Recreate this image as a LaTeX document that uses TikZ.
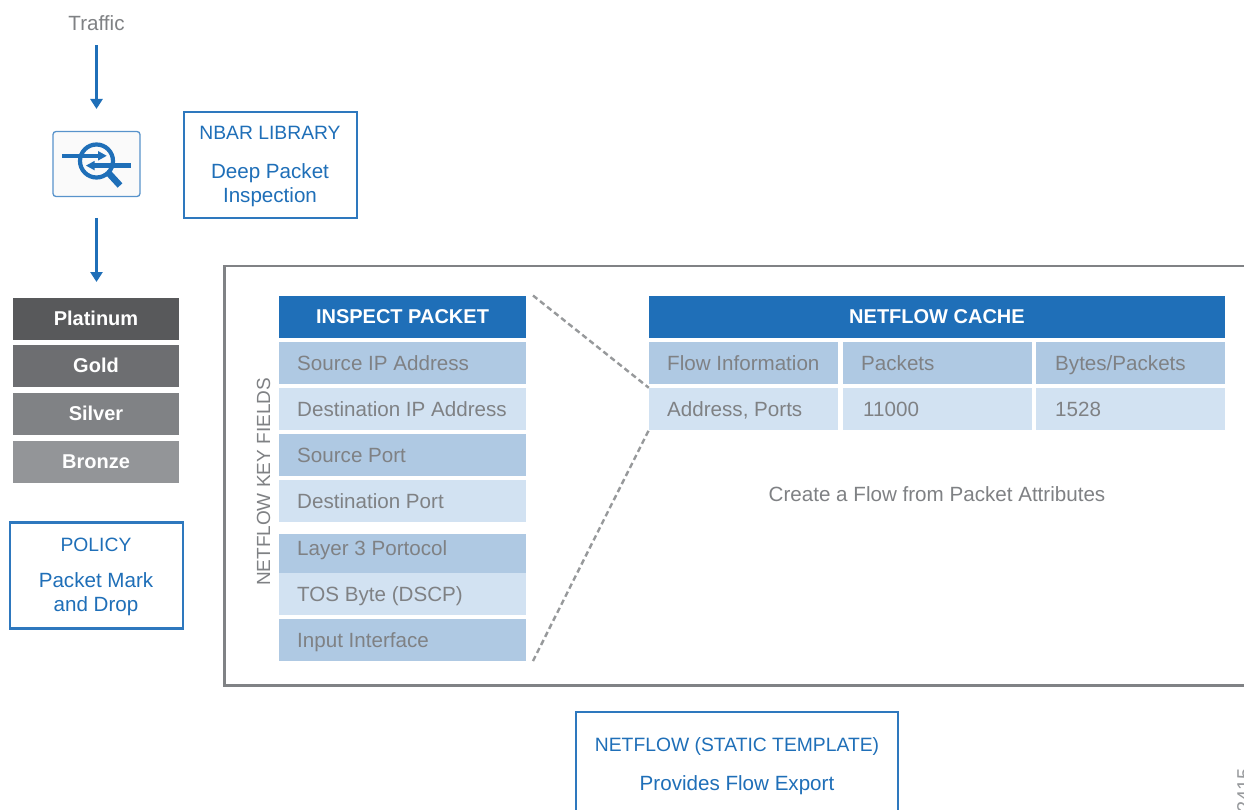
\documentclass[tikz,border=0pt]{standalone}
\usepackage{fontspec}
\setmainfont{Liberation Sans}
\usetikzlibrary{arrows.meta,calc}
\definecolor{cblue}{HTML}{1F6FB8}
\definecolor{cline}{HTML}{2E78BE}
\definecolor{tgray}{HTML}{7F8184}
\definecolor{framegray}{HTML}{808285}
\definecolor{dashgray}{HTML}{97999B}
\definecolor{rowdark}{HTML}{AFC9E3}
\definecolor{rowlight}{HTML}{D2E2F2}
\tikzset{
  rowd/.style={fill=rowdark},
  rowl/.style={fill=rowlight},
  tier/.style={minimum width=166,minimum height=42,inner sep=0pt,text=white,font=\fontsize{20}{23}\selectfont\bfseries,text height=13,text depth=0},
  head/.style={fill=cblue,text=white,minimum height=42,inner sep=0pt,font=\fontsize{20}{23}\selectfont\bfseries,text height=13,text depth=0},
  bluebox/.style={draw=cline,line width=2.4,fill=white,inner sep=0pt},
  bluecaps/.style={text=cblue,font=\fontsize{19.3}{24}\selectfont,inner sep=0pt,text height=14,text depth=0},
  bluetext/.style={text=cblue,font=\fontsize{20.6}{24}\selectfont,inner sep=0pt,align=center},
  flow/.style={draw=cblue,line width=3.8,-{Triangle[width=12,length=10]}},
  zoomline/.style={draw=dashgray,line width=2.4,dash pattern=on 5.5 off 3.5},
  graytext/.style={text=tgray,font=\fontsize{20.6}{23}\selectfont,inner sep=0pt,text height=14,text depth=0}
}
\begin{document}
\begin{tikzpicture}[x=1pt,y=-1pt]
\useasboundingbox (0,0) rectangle (1244,810);
\clip (0,0) rectangle (1244,810);
\fill[white] (0,0) rectangle (1244,810);

% left column
\node[graytext] (traffic) at (96.5,23.5) {Traffic};
\node[draw=cline!80,line width=1.3,rounded corners=3,fill=black!2,minimum width=87,minimum height=65,inner sep=0pt] (nbar) at (96.5,164) {};
\coordinate (arrin) at (96.5,45.5);
\coordinate (arrout) at (96.5,109);
\coordinate (arrin2) at (96.5,218);
\coordinate (arrout2) at (96.5,282);
\draw[flow] (arrin) -- (arrout);
\draw[flow] (arrin2) -- (arrout2);

% magnifier icon
\begin{scope}[cblue]
\draw[line width=4.2] (96.5,161) circle (16.5);
\draw[line width=6.5] (109,173.5) -- (120,185.5);
\draw[line width=4.2] (62,155.8) -- (100,155.8);
\fill (106.7,155.8) -- (98,151) -- (98,160.6) -- cycle;
\draw[line width=4.2] (130.7,165.6) -- (92,165.6);
\fill (86,165.6) -- (94.7,160.8) -- (94.7,170.4) -- cycle;
\end{scope}

\node[bluebox,minimum width=173,minimum height=106] (lib) at (270.5,165) {};
\node[bluecaps] (libt) at (270,133) {NBAR LIBRARY};
\node[bluetext] (libs) at (270,185) {Deep Packet\\Inspection};

\node[tier,fill={rgb,255:red,88;green,89;blue,91}] (plat) at (96,319) {Platinum};
\node[tier,fill={rgb,255:red,109;green,110;blue,113}] (gold) at (96,366) {Gold};
\node[tier,fill={rgb,255:red,128;green,130;blue,133}] (silver) at (96,414) {Silver};
\node[tier,fill={rgb,255:red,147;green,149;blue,152}] (bronze) at (96,462) {Bronze};

\node[bluebox,minimum width=173,minimum height=106] (policy) at (96.5,575.5) {};
\node[bluecaps] (polt) at (96,544) {POLICY};
\node[bluetext] (pols) at (96,594.5) {Packet Mark\\and Drop};

% frame
\draw[framegray,line width=2.2] (1250,266) -- (224.5,266) -- (224.5,685.5) -- (1250,685.5);

% inspect packet column
\node[head,minimum width=247] (insp) at (402.5,317) {INSPECT PACKET};
\foreach \n/\y/\h/\st/\t in {
  a/363/42/rowd/Source IP Address,
  b/409/42/rowl/Destination IP Address,
  c/455/42/rowd/Source Port,
  d/501/42/rowl/Destination Port,
  e/553.5/39/rowd/{},
  f/594/42/rowl/TOS Byte (DSCP),
  g/640/42/rowd/Input Interface}{
  \node[\st,minimum width=247,minimum height=\h,inner sep=0pt] (r\n) at (402.5,\y) {};
  \node[graytext,anchor=west] (t\n) at (297,\y) {\t};
}
\node[graytext,anchor=west] (te2) at (297,548) {Layer 3 Portocol};
\node[graytext,rotate=90,font=\fontsize{19}{23}\selectfont] (keys) at (263,482) {NETFLOW KEY FIELDS};

% cache
\node[head,minimum width=576] (cache) at (937,317) {NETFLOW CACHE};
\foreach \n/\x/\w/\st/\y/\t/\tx in {
  fi/743.5/189/rowd/363/Flow Information/667,
  pk/937.5/189/rowd/363/Packets/861,
  bp/1130.5/189/rowd/363/Bytes\slash Packets/1055,
  ad/743.5/189/rowl/409/{Address, Ports}/667,
  el/937.5/189/rowl/409/11000/863,
  by/1130.5/189/rowl/409/1528/1055}{
  \node[\st,minimum width=\w,minimum height=42,inner sep=0pt] (c\n) at (\x,\y) {};
  \node[graytext,anchor=west] (ct\n) at (\tx,\y) {\t};
}
\node[graytext] (create) at (937,494) {Create a Flow from Packet Attributes};

% dashed zoom lines
\coordinate (z1) at (533,295.5);
\coordinate (z2) at (533,661);
\draw[zoomline] (z1) -- (cad.north west);
\draw[zoomline] (z2) -- (cad.south west);

% bottom box
\node[bluebox,minimum width=322,minimum height=120,anchor=north] (tmpl) at (737,711) {};
\node[bluecaps] (tmplt) at (737,744) {NETFLOW (STATIC TEMPLATE)};
\node[bluetext,text height=14,text depth=0] (tmpls) at (737,783) {Provides Flow Export};

\node[text=tgray!80,rotate=90,font=\fontsize{20}{22}\selectfont,inner sep=0pt,anchor=base east] (code) at (1251,768) {2415};
\end{tikzpicture}
\end{document}
